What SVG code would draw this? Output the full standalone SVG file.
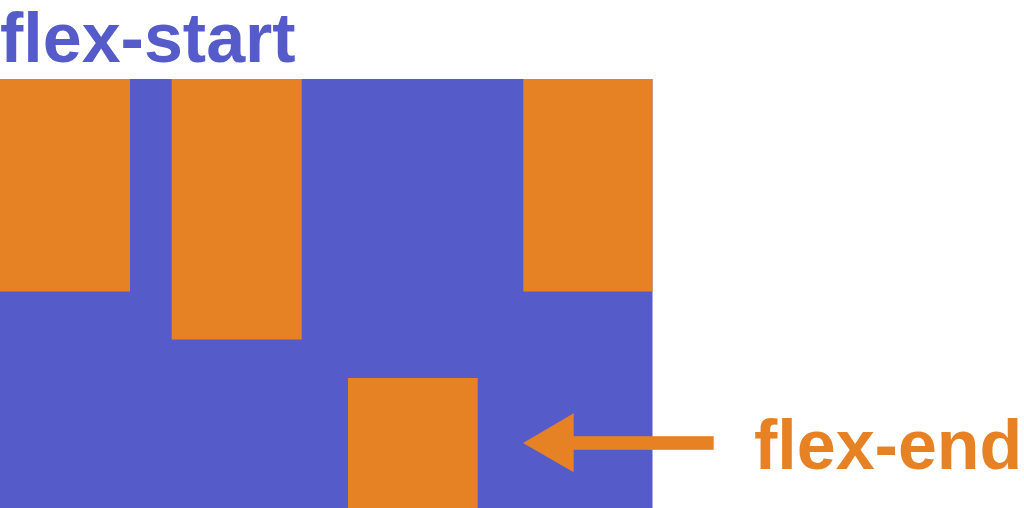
<svg xmlns="http://www.w3.org/2000/svg" width="1024" height="508" viewBox="0 0 1024 508">
<style>
.box{fill:#E78224}
.lbl{font-family:"Liberation Sans",Arial,sans-serif;font-weight:bold;font-size:70px}
</style>
<rect width="1024" height="508" fill="#ffffff"/>
<g id="container"><rect x="0" y="79" width="652.5" height="429" fill="#565BCA"/></g>
<g id="item1"><rect class="box" x="0" y="79" width="130" height="212.5"/></g>
<g id="item2"><rect class="box" x="171.7" y="79" width="130" height="260.5"/></g>
<g id="item3"><rect class="box" x="523.3" y="79" width="129.2" height="212.5"/></g>
<g id="item4"><rect class="box" x="348" y="378" width="129.7" height="130"/></g>
<g id="connectors">
<rect class="box" x="570" y="436.2" width="143.7" height="13.6"/>
<polygon class="box" points="523,443 573.7,413.3 573.7,472.3"/>
</g>
<g id="label-start"><text class="lbl" x="0" y="61.5" fill="#565BCA">flex-start</text></g>
<g id="label-end"><text class="lbl" x="754" y="469" fill="#E78224">flex-end</text></g>
</svg>
